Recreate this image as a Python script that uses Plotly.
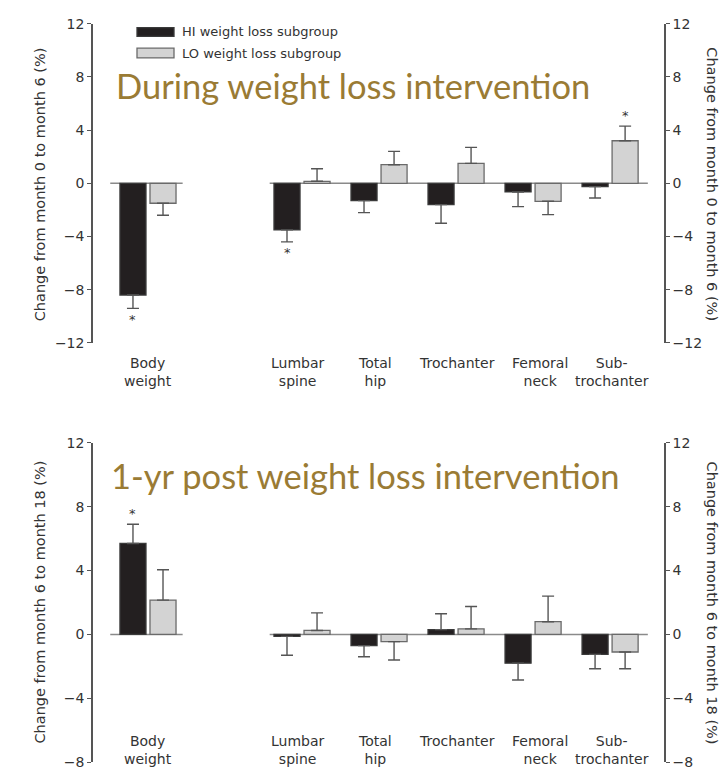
import plotly.graph_objects as go

# Sites measured (slot 1 left empty to separate body weight from BMD sites)
site_labels = ["Body<br>weight", "Lumbar<br>spine", "Total<br>hip", "Trochanter",
               "Femoral<br>neck", "Sub-<br>trochanter"]
site_pos = [0, 2, 3, 4, 5, 6]

# Month 0 -> month 6 change (%), means and error-bar ends
hi_m6 = [-8.4, -3.5, -1.3, -1.6, -0.65, -0.25]
hi_m6_err = [-9.4, -4.4, -2.2, -3.0, -1.75, -1.1]
lo_m6 = [-1.5, 0.15, 1.4, 1.5, -1.35, 3.2]
lo_m6_err = [-2.4, 1.1, 2.4, 2.7, -2.35, 4.3]
hi_m6_sig = [True, True, False, False, False, False]
lo_m6_sig = [False, False, False, False, False, True]

# Month 6 -> month 18 change (%)
hi_m18 = [5.7, -0.12, -0.7, 0.3, -1.8, -1.25]
hi_m18_err = [6.9, -1.3, -1.4, 1.3, -2.85, -2.15]
lo_m18 = [2.15, 0.25, -0.45, 0.35, 0.8, -1.1]
lo_m18_err = [4.05, 1.35, -1.6, 1.75, 2.4, -2.15]
hi_m18_sig = [True, False, False, False, False, False]
lo_m18_sig = [False, False, False, False, False, False]

W, H = 723, 778
GOLD = "#9a7b34"
DARK = "#231f20"
LIGHT = "#d3d3d3"
AX = "#555555"
TXT = "#333333"
FONT = "DejaVu Sans"


def err_arrays(vals, ends):
    up = [max(e - v, 0) if v >= 0 else 0 for v, e in zip(vals, ends)]
    dn = [max(v - e, 0) if v < 0 else 0 for v, e in zip(vals, ends)]
    return up, dn


fig = go.Figure()

panels = [
    dict(x="x", y="y", yr="y3", hi=hi_m6, hie=hi_m6_err, lo=lo_m6, loe=lo_m6_err,
         hs=hi_m6_sig, ls=lo_m6_sig),
    dict(x="x2", y="y2", yr="y4", hi=hi_m18, hie=hi_m18_err, lo=lo_m18, loe=lo_m18_err,
         hs=hi_m18_sig, ls=lo_m18_sig),
]

for p in panels:
    for name, vals, ends, fill, edge, sig in [
        ("HI weight loss subgroup", p["hi"], p["hie"], DARK, "#3a3a3a", p["hs"]),
        ("LO weight loss subgroup", p["lo"], p["loe"], LIGHT, "#6a6a6a", p["ls"]),
    ]:
        up, dn = err_arrays(vals, ends)
        fig.add_trace(go.Bar(
            x=site_pos, y=vals, name=name, showlegend=False,
            xaxis=p["x"], yaxis=p["y"],
            marker=dict(color=fill, line=dict(color=edge, width=1.3)),
            error_y=dict(type="data", symmetric=False, array=up, arrayminus=dn,
                         color="#555555", thickness=1.4, width=6),
            offsetgroup=name,
        ))
    # empty trace so the right-hand duplicate axis is rendered
    fig.add_trace(go.Scatter(x=[], y=[], xaxis=p["x"], yaxis=p["yr"],
                             showlegend=False, hoverinfo="skip"))

fig.update_layout(barmode="group", bargap=0.22, bargroupgap=0.133)

# significance markers beyond the error-bar ends
XR = [-0.714, 6.70]
for p in panels:
    for k, (ends, sig) in enumerate([(p["hie"], p["hs"]), (p["loe"], p["ls"])]):
        for i, s in enumerate(sig):
            if not s:
                continue
            e = ends[i]
            fig.add_annotation(
                x=site_pos[i], y=e, xref=p["x"], yref=p["y"],
                xanchor="center", yanchor="middle",
                xshift=(-15 if k == 0 else 15), yshift=(11 if e > 0 else -11),
                text="*", showarrow=False,
                font=dict(family=FONT, size=13, color=TXT),
            )


def px_x(v):
    return v / W


def px_y(v):
    return 1 - v / H


dom_x = [px_x(93), px_x(664)]
axis_common = dict(showline=True, linecolor=AX, linewidth=1.5, ticks="outside",
                   ticklen=4, tickwidth=1.3, tickcolor=AX, showgrid=False,
                   zeroline=False, tickfont=dict(family=FONT, size=14, color=TXT))

fig.update_layout(
    width=W, height=H, margin=dict(l=0, r=0, t=0, b=0),
    paper_bgcolor="white", plot_bgcolor="white",
    xaxis=dict(domain=dom_x, range=XR, anchor="y", visible=False),
    xaxis2=dict(domain=dom_x, range=XR, anchor="y2", visible=False),
    yaxis=dict(domain=[px_y(342), px_y(16)], range=[-12, 12], anchor="x",
               tickvals=[-12, -8, -4, 0, 4, 8, 12], **axis_common),
    yaxis3=dict(range=[-12, 12], overlaying="y", side="right", anchor="x",
                tickvals=[-12, -8, -4, 0, 4, 8, 12], **axis_common),
    yaxis2=dict(domain=[px_y(770), px_y(444)], range=[-8, 12], anchor="x2",
                tickvals=[-8, -4, 0, 4, 8, 12], **axis_common),
    yaxis4=dict(range=[-8, 12], overlaying="y2", side="right", anchor="x2",
                tickvals=[-8, -4, 0, 4, 8, 12], **axis_common),
)

# baselines under each group of bars
for xr, yr in [("x", "y"), ("x2", "y2")]:
    for x0, x1 in [(-0.49, 0.45), (1.58, 6.49)]:
        fig.add_shape(type="line", xref=xr, yref=yr, x0=x0, x1=x1, y0=0, y1=0,
                      line=dict(color="#8a8a8a", width=1.4), layer="below")

# axis titles
for title, yc in [("Change from month 0 to month 6 (%)", 180),
                  ("Change from month 6 to month 18 (%)", 607)]:
    fig.add_annotation(x=px_x(40), y=px_y(yc), xref="paper", yref="paper",
                       xanchor="center", yanchor="middle",
                       text=title, textangle=-90, showarrow=False,
                       font=dict(family=FONT, size=14.5, color=TXT))
    fig.add_annotation(x=px_x(712), y=px_y(yc), xref="paper", yref="paper",
                       xanchor="center", yanchor="middle",
                       text=title, textangle=90, showarrow=False,
                       font=dict(family=FONT, size=14.5, color=TXT))

# site labels under each panel
label_shift = [0, -4, -4, 1, 7, 2]
for xr, ytop in [("x", 352), ("x2", 738)]:
    for pos, lab, sh in zip(site_pos, site_labels, label_shift):
        fig.add_annotation(x=pos, y=px_y(ytop), xref=xr, yref="paper",
                           xanchor="center", yanchor="top",
                           text=lab, showarrow=False, xshift=sh,
                           font=dict(family=FONT, size=14, color=TXT))

# legend swatches and text
for y0, y1, fill, edge, name in [
    (20, 29, DARK, "#3a3a3a", "HI weight loss subgroup"),
    (41, 51, LIGHT, "#6a6a6a", "LO weight loss subgroup"),
]:
    fig.add_shape(type="rect", xref="paper", yref="paper",
                  x0=px_x(137), x1=px_x(174), y0=px_y(y1), y1=px_y(y0),
                  fillcolor=fill, line=dict(color=edge, width=1.3))
    fig.add_annotation(x=px_x(180), y=px_y((y0 + y1) / 2), xref="paper", yref="paper",
                       xanchor="left", yanchor="middle", text=name, showarrow=False,
                       font=dict(family=FONT, size=13, color=TXT))

# panel captions
for text, xc, yc in [("During weight loss intervention", 353, 79),
                     ("1-yr post weight loss intervention", 365, 477)]:
    fig.add_annotation(x=px_x(xc), y=px_y(yc), xref="paper", yref="paper",
                       xanchor="center", yanchor="middle",
                       text=text, showarrow=False,
                       font=dict(family="Lato", size=34.5, color=GOLD))

fig.write_html("out.html")
